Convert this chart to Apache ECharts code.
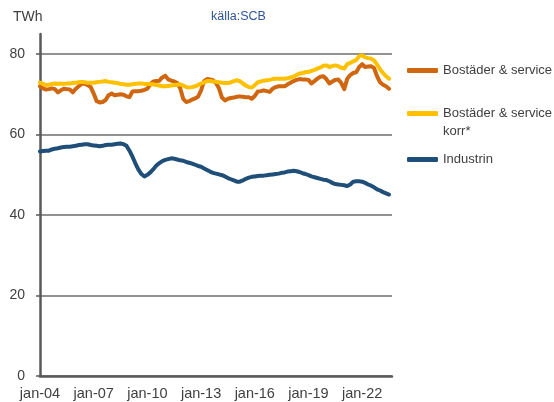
<!DOCTYPE html>
<html>
<head>
<meta charset="utf-8">
<script src="https://cdn.jsdelivr.net/npm/echarts@6/dist/echarts.min.js"></script>
<style>
  html, body { margin: 0; padding: 0; background: #fff; }
  #chart { width: 554px; height: 402px; }
</style>
</head>
<body>
<div id="chart"></div>
<script>
// bimonthly points, jan-04 .. sep-23
var monthNames = ['jan', 'mar', 'maj', 'jul', 'sep', 'nov'];
var categories = [];
for (var y = 2004; y <= 2023; y++) {
  for (var k = 0; k < 6; k++) {
    if (categories.length < 119) categories.push(monthNames[k] + '-' + String(y).slice(2));
  }
}

var yTicks = [0, 20, 40, 60, 80];

var bostader = [
  72.0, 71.5, 71.2, 71.3, 71.5, 71.3, 70.5, 71.0, 71.4, 71.3,
  71.2, 70.5, 71.4, 72.0, 72.7, 72.6, 72.3, 71.8, 70.2, 68.3,
  68.0, 68.1, 68.6, 69.8, 70.2, 69.8, 69.9, 70.0, 69.9, 69.5,
  69.3, 70.7, 70.8, 70.8, 70.9, 71.1, 71.4, 72.5, 73.2, 73.3,
  73.4, 74.2, 74.6, 73.7, 73.4, 73.2, 72.8, 71.5, 68.9, 68.1,
  68.3, 68.7, 69.0, 69.4, 71.0, 73.3, 73.8, 73.7, 73.5, 72.8,
  71.5, 69.2, 68.5, 68.9, 69.1, 69.2, 69.4, 69.5, 69.4, 69.3,
  69.3, 68.9, 69.6, 70.7, 70.8, 71.0, 70.8, 70.6, 71.4, 71.8,
  72.0, 72.0, 72.0, 72.5, 72.9, 73.3, 73.6, 73.8, 73.7, 73.7,
  73.6, 72.7, 73.3, 73.9, 74.4, 74.5, 73.8, 72.7, 73.2, 73.6,
  73.7, 72.8, 71.3, 73.9, 74.8, 75.3, 75.5, 76.8, 77.5, 76.8,
  76.9, 77.0, 76.5, 74.5, 73.0, 72.4, 72.0, 71.4
];

var bostaderKorr = [
  72.9, 72.6, 72.3, 72.4, 72.6, 72.7, 72.6, 72.7, 72.6, 72.7,
  72.7, 72.8, 72.9, 73.0, 73.1, 73.0, 72.9, 72.9, 72.9, 73.0,
  73.1, 73.2, 73.3, 73.1, 73.0, 72.9, 72.8, 72.6, 72.5, 72.4,
  72.4, 72.5, 72.6, 72.7, 72.7, 72.6, 72.6, 72.5, 72.5, 72.3,
  72.2, 72.0, 72.0, 72.1, 72.2, 72.3, 72.4, 72.5, 72.2, 71.8,
  71.7, 71.8, 72.0, 72.3, 72.7, 73.0, 73.3, 73.3, 73.2, 73.1,
  73.0, 72.9, 72.8, 72.8, 73.0, 73.3, 73.5, 73.3, 72.7, 72.2,
  71.8, 71.7, 72.3, 73.0, 73.2, 73.4, 73.5, 73.6, 73.8, 73.9,
  73.9, 73.9, 73.9, 74.0, 74.2, 74.4, 74.8, 75.2, 75.3, 75.5,
  75.6, 75.8, 76.1, 76.4, 76.7, 77.1, 77.2, 76.8, 77.0, 77.2,
  77.0, 76.6, 76.4, 77.5, 77.8, 78.2, 78.5, 79.5, 79.7, 79.2,
  79.0, 78.9, 78.4, 77.4, 76.2, 75.3, 74.5, 73.9
];

var industrin = [
  55.8, 55.9, 56.0, 56.0, 56.3, 56.5, 56.6, 56.8, 56.9, 57.0,
  57.0, 57.1, 57.2, 57.4, 57.5, 57.6, 57.6, 57.4, 57.3, 57.2,
  57.1, 57.2, 57.4, 57.5, 57.5, 57.6, 57.7, 57.8, 57.6, 57.2,
  56.0, 54.5, 52.8, 51.3, 50.2, 49.6, 50.0, 50.6, 51.4, 52.3,
  52.9, 53.4, 53.7, 53.9, 54.1, 54.0, 53.8, 53.6, 53.5, 53.2,
  53.0, 52.8, 52.5, 52.2, 52.0, 51.6, 51.2, 50.8, 50.5, 50.3,
  50.1, 49.9, 49.6, 49.2, 48.9, 48.6, 48.3, 48.3, 48.6, 49.0,
  49.3, 49.5, 49.6, 49.7, 49.8, 49.8, 49.9, 50.0, 50.1, 50.2,
  50.3, 50.5, 50.6, 50.8, 50.9, 51.0, 50.9, 50.7, 50.4, 50.2,
  49.9, 49.6, 49.4, 49.2, 49.0, 48.8, 48.7, 48.4, 48.0, 47.7,
  47.6, 47.5, 47.4, 47.2, 47.6, 48.3, 48.4, 48.4, 48.3, 48.0,
  47.6, 47.3, 46.9, 46.4, 46.1, 45.7, 45.4, 45.1
];

var chart = echarts.init(document.getElementById('chart'));

var fontFamily = 'Liberation Sans, Arial, sans-serif';
var textColor = '#404040';

function legendAt(name, top, label) {
  return {
    data: [name],
    orient: 'vertical',
    left: 407,
    top: top,
    padding: 0,
    itemWidth: 31,
    itemHeight: 5,
    icon: 'roundRect',
    itemGap: 0,
    selectedMode: false,
    formatter: function () { return label; },
    textStyle: { color: textColor, fontSize: 13, fontFamily: fontFamily }
  };
}

chart.setOption({
  animation: false,
  color: ['#1F4E79', '#D0660F', '#FFC000'],
  textStyle: { fontFamily: fontFamily },
  grid: { left: 40, right: 162, top: 34, bottom: 26, containLabel: false },
  graphic: [
    { type: 'text', left: 13, top: 10, style: { text: 'TWh', fontSize: 14, fill: textColor, fontFamily: fontFamily } },
    { type: 'text', left: 211, top: 10, style: { text: 'källa:SCB', fontSize: 12.5, fill: '#2F5597', fontFamily: fontFamily } },
    { type: 'text', left: 443, top: 125, style: { text: 'korr*', fontSize: 13, fill: textColor, fontFamily: fontFamily } }
  ],
  legend: [
    legendAt('Bostäder & service', 64, 'Bostäder & service'),
    legendAt('Bostäder & service korr*', 107, 'Bostäder & service'),
    legendAt('Industrin', 153, 'Industrin')
  ],
  xAxis: {
    type: 'category',
    data: categories,
    boundaryGap: false,
    axisLine: { lineStyle: { color: '#595959', width: 2.5 } },
    axisTick: { show: false },
    axisLabel: { interval: 17, color: textColor, fontSize: 14.5, margin: 10, fontFamily: fontFamily },
    splitLine: { show: false }
  },
  yAxis: {
    type: 'value',
    min: 0,
    max: 85,
    interval: 20,
    axisLine: { show: true, lineStyle: { color: '#595959', width: 2.5 } },
    axisTick: { show: true, length: 4, customValues: yTicks, lineStyle: { color: '#595959', width: 1.5 } },
    axisLabel: { customValues: yTicks, color: textColor, fontSize: 14, margin: 15, fontFamily: fontFamily },
    splitLine: { show: true, customValues: yTicks, lineStyle: { color: '#6e6e6e', width: 1.5 } }
  },
  series: [
    {
      name: 'Industrin',
      type: 'line',
      data: industrin,
      showSymbol: false,
      lineStyle: { width: 4, cap: 'round', join: 'round' },
      z: 3
    },
    {
      name: 'Bostäder & service',
      type: 'line',
      data: bostader,
      showSymbol: false,
      lineStyle: { width: 4, cap: 'round', join: 'round' },
      z: 3
    },
    {
      name: 'Bostäder & service korr*',
      type: 'line',
      data: bostaderKorr,
      showSymbol: false,
      lineStyle: { width: 4, cap: 'round', join: 'round' },
      z: 4
    }
  ]
});
</script>
</body>
</html>
